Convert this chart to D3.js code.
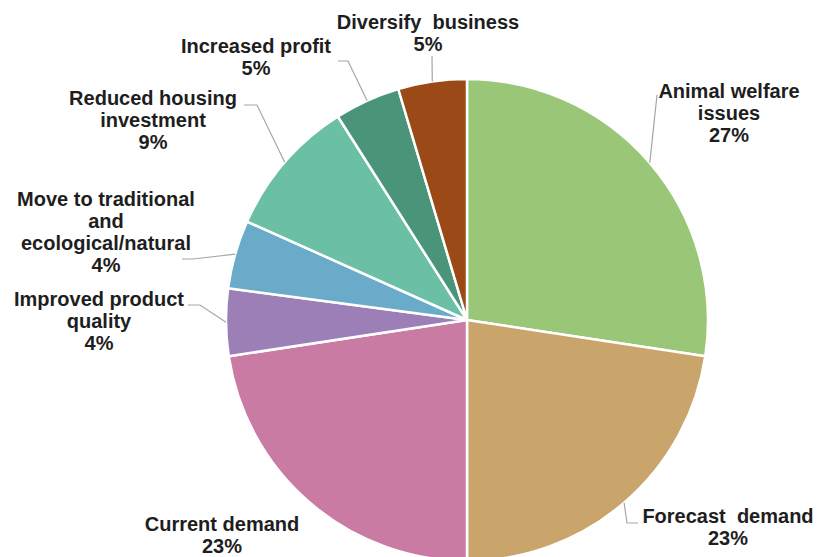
<!DOCTYPE html>
<html>
<head>
<meta charset="utf-8">
<script src="https://cdnjs.cloudflare.com/ajax/libs/d3/7.8.5/d3.min.js"></script>
<style>
  body { margin: 0; background: #fff; }
  text { font-family: "Liberation Sans", Arial, sans-serif; font-weight: bold; fill: #1e1e1e; }
</style>
</head>
<body>
<svg id="chart" width="818" height="557"></svg>
<script>
// slices, clockwise from 12 o'clock
const categories = [
    'Animal welfare issues', 'Forecast demand', 'Current demand', 'Improved product quality',
    'Move to traditional and ecological/natural', 'Reduced housing investment',
    'Increased profit', 'Diversify business'
];
const shares = [27.4, 22.6, 22.6, 4.5, 4.6, 9.3, 4.4, 4.6];
const percentLabels = ['27%', '23%', '23%', '4%', '4%', '9%', '5%', '5%'];
const labelLines = [
    ['Animal welfare', 'issues'],
    ['Forecast  demand'],
    ['Current demand'],
    ['Improved product', 'quality'],
    ['Move to traditional', 'and', 'ecological/natural'],
    ['Reduced housing', 'investment'],
    ['Increased profit'],
    ['Diversify  business']
];
const sliceColors = ['#99c777', '#c9a46b', '#c97ba3', '#9d7fb8', '#6aabca', '#6bbfa4', '#4a957a', '#9b4a17'];

const cx = 467, cy = 320, R = 241;
const LINE_H = 22;

// label anchor (center x, first baseline y) and leader elbow points
const labelLayout = [
    { x: 729, y: 98, leader: [[657, 95]] },
    { x: 728, y: 523, leader: [[627, 523], [638, 523]] },
    { x: 222, y: 531, leader: null },
    { x: 99, y: 306, leader: [[200, 305], [188, 305]] },
    { x: 106, y: 206, leader: [[193, 259], [182, 259]] },
    { x: 153, y: 105, leader: [[257, 105], [244, 105]] },
    { x: 256, y: 53, leader: [[348, 61], [338, 61]] },
    { x: 428, y: 29, leader: [[432, 56]] }
];

const svg = d3.select('#chart');
const g = svg.append('g').attr('transform', `translate(${cx},${cy})`);

const pie = d3.pie().sort(null).value(d => d)(shares);
const arc = d3.arc().innerRadius(0).outerRadius(R);
const edge = d3.arc().innerRadius(R).outerRadius(R);

g.selectAll('path.slice')
    .data(pie)
    .enter().append('path')
    .attr('class', 'slice')
    .attr('d', arc)
    .attr('fill', (d, i) => sliceColors[i])
    .attr('stroke', '#fff')
    .attr('stroke-width', 2.5)
    .attr('stroke-linejoin', 'round');

// leader lines
const line = d3.line();
pie.forEach((d, i) => {
    let lay = labelLayout[i];
    if (!lay.leader) return;
    let c = edge.centroid(d);
    let pts = [[cx + c[0], cy + c[1]]].concat(lay.leader);
    svg.append('path')
        .attr('d', line(pts))
        .attr('fill', 'none')
        .attr('stroke', '#a6a6a6')
        .attr('stroke-width', 1.2);
});

// labels
labelLayout.forEach((lay, i) => {
    let t = svg.append('text')
        .attr('text-anchor', 'middle')
        .attr('font-size', 20)
        .attr('xml:space', 'preserve')
        .style('white-space', 'pre');
    let lines = labelLines[i].concat([percentLabels[i]]);
    lines.forEach((s, k) => {
        t.append('tspan')
            .attr('x', lay.x)
            .attr('y', lay.y + k * LINE_H)
            .text(s);
    });
});
</script>
</body>
</html>
